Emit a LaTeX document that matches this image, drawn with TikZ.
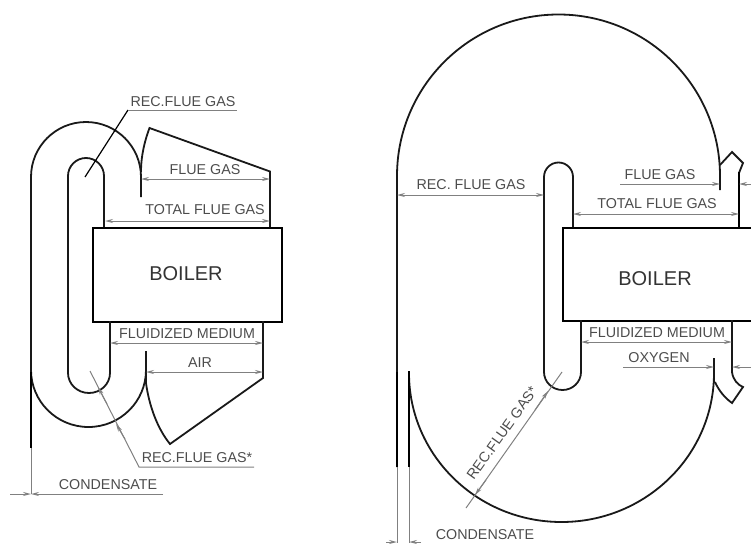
\documentclass[tikz,border=0pt]{standalone}
\usepackage{fontspec}
\setmainfont{Liberation Sans}
\usetikzlibrary{arrows.meta}
\definecolor{txt}{gray}{0.3}
\definecolor{dim}{gray}{0.5}
\tikzset{
 x=1pt,y=-1pt,
 pipe/.style={draw=black!90,line width=1.8pt},
 thick pipe/.style={draw=black,line width=2.6pt},
 box/.style={draw=black,line width=2.4pt},
 dimline/.style={draw=dim,line width=1pt,{Stealth[length=8pt,width=4pt,open,fill=white]}-{Stealth[length=8pt,width=4pt,open,fill=white]}},
 dimend/.style={draw=dim,line width=1pt,-{Stealth[length=8pt,width=4pt,open,fill=white]}},
 leader/.style={draw=dim,line width=1pt},
 lbl/.style={font=\fontsize{14.3pt}{16pt}\selectfont,text=txt,inner sep=0pt},
 blbl/.style={font=\fontsize{20pt}{22pt}\selectfont,text=black!80,inner sep=0pt},
}
\begin{document}
\begin{tikzpicture}
\useasboundingbox (0,0) rectangle (751,543);
% LEFT
\node[box,minimum width=189pt,minimum height=94pt,inner sep=0pt,anchor=north west] (lb) at (92,227) {};
\node[blbl] at (186,274) {BOILER};
\draw[pipe] (31,370) -- (31,177) arc[start angle=180,end angle=360,radius=55] -- (141,197);
\draw[pipe] (68,373) -- (68,176) arc[start angle=180,end angle=360,radius=18] -- (104,227);
\draw[pipe] (110,321) -- (110,373) arc[start angle=0,end angle=180,x radius=21,y radius=20];
\draw[pipe] (146,351) -- (146,383);
\draw[pipe] (31,370) arc[start angle=180,end angle=0,x radius=57.5,y radius=57];
\draw[pipe] (141,172) .. controls (141,155) and (145,140) .. (149.5,128) -- (270,171.5) -- (270,227);
\draw[pipe] (146,383) .. controls (149,405) and (157,428) .. (170,444) -- (263,378) -- (263,321);
\draw[thick pipe] (31,372) -- (31,448);
\draw[leader] (31,448) -- (31,494);
\draw[dimline] (141,179) -- (270,179);
\node[lbl] at (205,169.5) {FLUE GAS};
\draw[dimline] (105,221) -- (270,221);
\node[lbl] at (205,210) {TOTAL FLUE GAS};
\draw[dimline] (110,343) -- (263,343);
\node[lbl] at (187,334) {FLUIDIZED MEDIUM};
\draw[dimline] (146,372) -- (263,372);
\node[lbl] at (200,362.5) {AIR};
\draw[dimend] (10,494) -- (31,494);
\draw[dimend] (163,494) -- (31,494);
\node[lbl] at (108,485) {CONDENSATE};
\draw[black,line width=1.2pt] (85,177) -- (128,110);
\draw[leader] (128,110) -- (237,110);
\node[lbl] at (183,102) {REC.FLUE GAS};
\draw[leader] (90,371) -- (139,467) -- (254,467);
\draw[dimend] (125,439) -- (116,424);
\draw[dimend] (107,404) -- (98,387);
\node[lbl] at (197,457.5) {REC.FLUE GAS*};
% RIGHT
\node[box,minimum width=189pt,minimum height=93pt,inner sep=0pt,anchor=north west] (rb) at (562,227) {};
\node[blbl] at (655,279) {BOILER};
\draw[pipe] (397,467) -- (397,176) arc[start angle=180,end angle=360,radius=161.5] -- (720,190);
\draw[pipe] (544,373) -- (544,177) arc[start angle=180,end angle=360,radius=14.5] -- (573,227);
\draw[pipe] (581,320) -- (581,372) arc[start angle=0,end angle=180,x radius=18.5,y radius=18] -- (544,373);
\draw[pipe] (720,165) -- (732,152) -- (743,163) -- (739,173);
\draw[thick pipe] (739,172) -- (739,227);
\draw[pipe] (732,320) -- (732,372) .. controls (733,380) and (738,385) .. (743,387) -- (732,403) .. controls (725,398) and (719,391) .. (715,382);
\draw[pipe] (714,358) -- (714,383);
\draw[pipe] (409,373) arc[start angle=180,end angle=0,x radius=152.5,y radius=149];
\draw[thick pipe] (397,372) -- (397,467);
\draw[thick pipe] (409,371) -- (409,467);
\draw[leader] (397,467) -- (397,543);
\draw[leader] (409,467) -- (409,543);
\draw[dimend] (386,542) -- (397,542);
\draw[dimend] (421,542) -- (409,542);
\draw[dimline] (397,195) -- (544,195);
\node[lbl] at (471,185) {REC. FLUE GAS};
\draw[dimend] (620,184) -- (720,184);
\draw[dimend] (751,184) -- (739,184);
\node[lbl] at (660,174.5) {FLUE GAS};
\draw[dimline] (573,214) -- (739,214);
\node[lbl] at (657,204) {TOTAL FLUE GAS};
\draw[dimline] (581,342) -- (732,342);
\node[lbl] at (657,333) {FLUIDIZED MEDIUM};
\draw[dimend] (623,367) -- (714,367);
\draw[dimend] (751,367) -- (732,367);
\node[lbl] at (659,358) {OXYGEN};
\draw[leader] (562,372) -- (466,508);
\draw[dimend] (486,480) -- (475,495);
\draw[dimend] (535,410) -- (548,391);
\node[lbl,rotate=54.5] at (502,433) {REC.FLUE GAS*};
\node[lbl] at (485,535) {CONDENSATE};
\end{tikzpicture}
\end{document}
